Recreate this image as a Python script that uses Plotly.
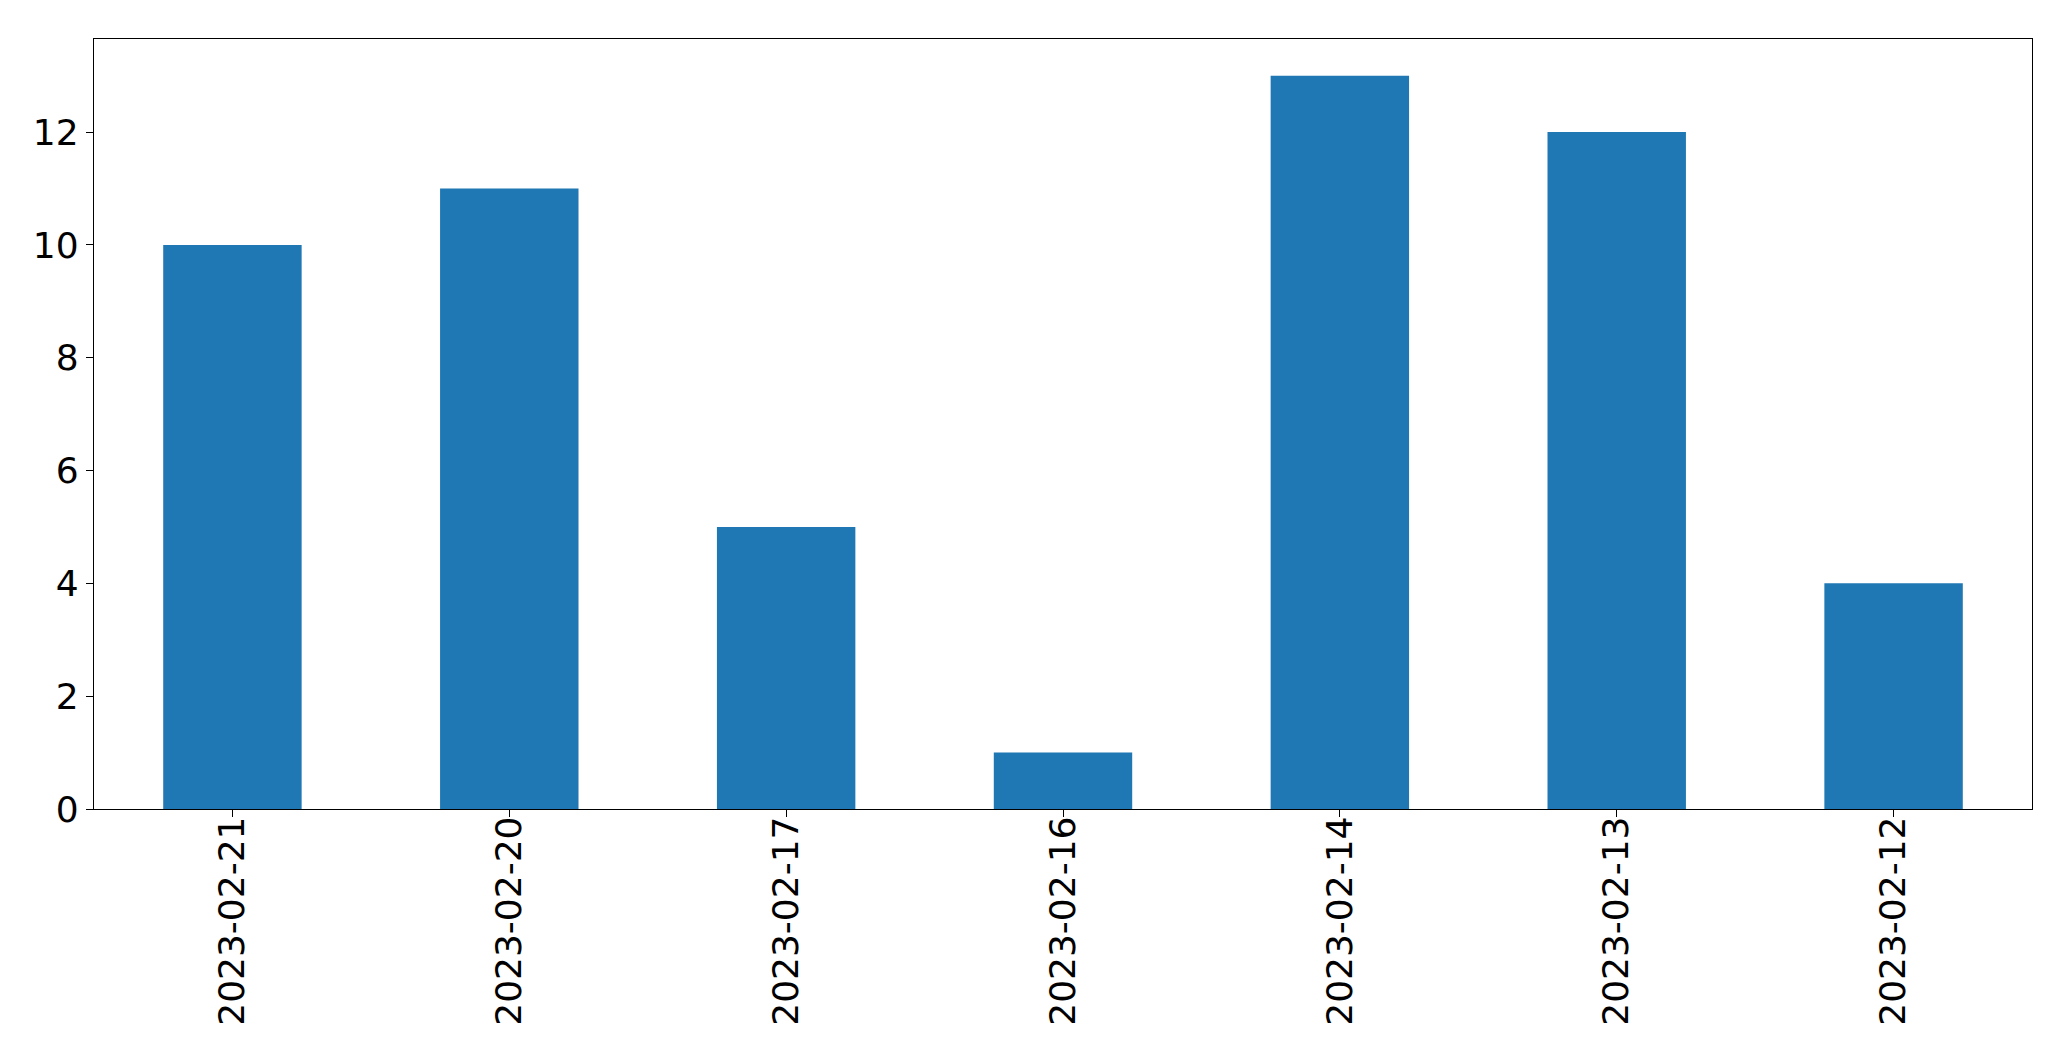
import plotly.graph_objects as go

categories = ["2023-02-21", "2023-02-20", "2023-02-17", "2023-02-16", "2023-02-14", "2023-02-13", "2023-02-12"]
values = [10, 11, 5, 1, 13, 12, 4]
y_ticks = [0, 2, 4, 6, 8, 10, 12]

fig = go.Figure(go.Bar(x=list(range(len(categories))), y=values, width=0.5,
                       marker=dict(color="#1f77b4", line=dict(width=0))))

# page body has an 8px default margin, so shift everything up/left by 8px
fig.update_layout(
    width=2055, height=1045,
    margin=dict(l=86, r=31, t=31, b=244, pad=0, autoexpand=False),
    paper_bgcolor="white", plot_bgcolor="white",
    font=dict(family="DejaVu Sans", size=36, color="black"),
    showlegend=False,
)
fig.update_xaxes(
    range=[-0.5, 6.5], tickmode="array", tickvals=list(range(len(categories))), ticktext=categories,
    tickangle=-90, showline=True, linecolor="black", linewidth=1.3, mirror=True,
    ticks="outside", ticklen=7, tickwidth=1.3, tickcolor="black", showgrid=False, zeroline=False,
    ticklabelstandoff=-15,
)
fig.update_yaxes(
    range=[0, 13.65], tickmode="array", tickvals=y_ticks,
    showline=True, linecolor="black", linewidth=1.3, mirror=True,
    ticks="outside", ticklen=7, tickwidth=1.3, tickcolor="black", showgrid=False, zeroline=False,
)
fig.write_html("out.html")
